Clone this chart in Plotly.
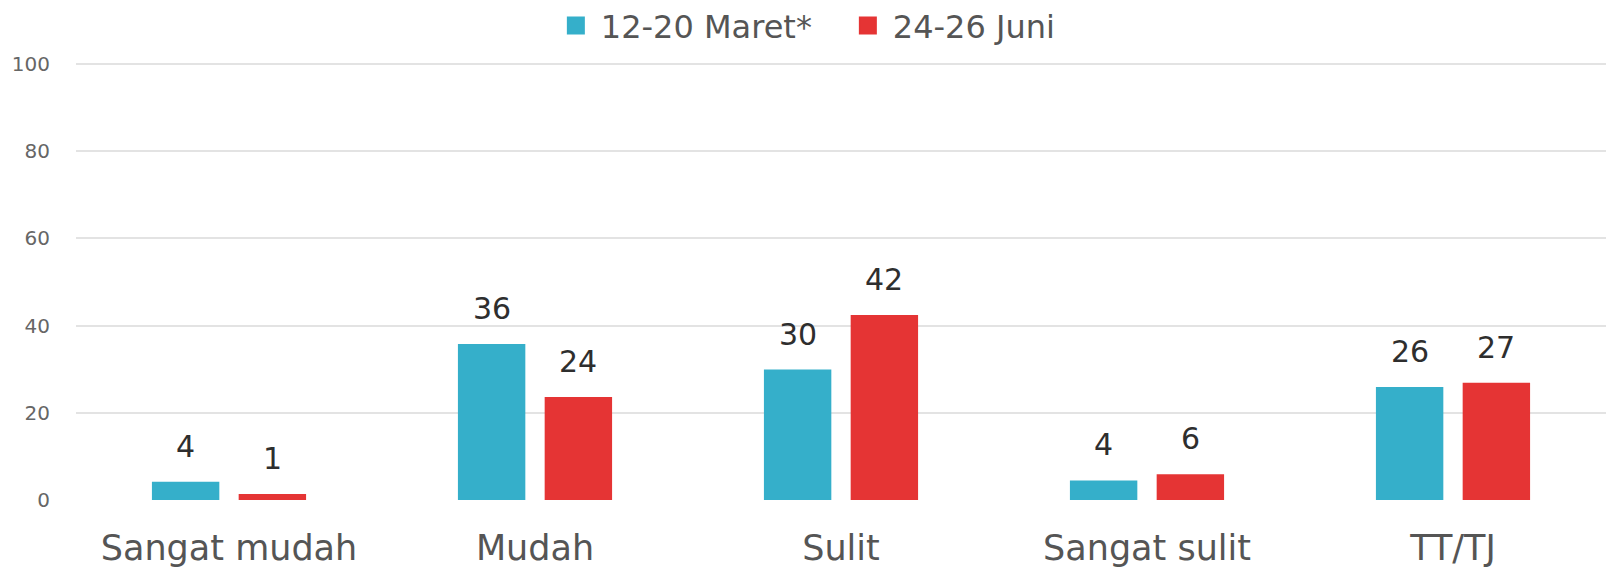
import plotly.graph_objects as go

categories = ["Sangat mudah", "Mudah", "Sulit", "Sangat sulit", "TT/TJ"]
series_names = ["12-20 Maret*", "24-26 Juni"]
maret = [4.2, 35.8, 29.9, 4.5, 25.9]
juni = [1.4, 23.6, 42.4, 5.9, 26.9]
colors = ["#35afca", "#e53434"]
y_ticks = [0, 20, 40, 60, 80, 100]

FONT = "DejaVu Sans"

fig = go.Figure()
for name, vals, col in zip(series_names, [maret, juni], colors):
    fig.add_trace(go.Bar(x=categories, y=vals, name=name, marker_color=col,
                         marker_line_width=0, showlegend=False, hoverinfo="x+y"))
    # legend proxy with larger square swatch
    fig.add_trace(go.Scatter(x=[None], y=[None], mode="markers", name=name,
                             marker=dict(symbol="square", size=16, color=col,
                                         line=dict(color=col, width=2)),
                             showlegend=True))

bargap = 0.433
groupgap = 0.223
plot_w = 1606 - 76
cat_w = plot_w / len(categories)
offset = cat_w * (1 - bargap) / 4

for sign, vals in zip([-1, 1], [maret, juni]):
    for c, v in zip(categories, vals):
        fig.add_annotation(x=c, y=v, text=f"{round(v):d}", showarrow=False,
                           xshift=sign * offset, yshift=16, yanchor="bottom",
                           font=dict(family=FONT, size=30, color="#2e2e2e"))

fig.update_layout(
    width=1606, height=571,
    margin=dict(l=76, r=0, t=62, b=71, autoexpand=False),
    paper_bgcolor="white", plot_bgcolor="white",
    barmode="group", bargap=bargap, bargroupgap=groupgap,
    font=dict(family=FONT, color="#555555"),
    legend=dict(orientation="h", xref="container", yref="container",
                x=0.343, xanchor="left", y=0.955, yanchor="middle",
                font=dict(family=FONT, size=32, color="#555555"),
                itemsizing="trace", tracegroupgap=0, itemwidth=40,
                entrywidth=237),
    xaxis=dict(showgrid=False, showline=False, zeroline=False, ticks="",
               ticklabelstandoff=24,
               tickfont=dict(family=FONT, size=35, color="#555555")),
    yaxis=dict(range=[0, 100.45], tickvals=y_ticks, showgrid=True,
               gridcolor="#e3e3e3", gridwidth=2, zeroline=False,
               showline=False, ticks="", ticklabelstandoff=25,
               tickfont=dict(family=FONT, size=20, color="#666666")),
)

fig.write_html("out.html",
               config={"displayModeBar": False},
               post_script="document.body.style.margin='0';"
                           "document.body.style.overflow='hidden';")
